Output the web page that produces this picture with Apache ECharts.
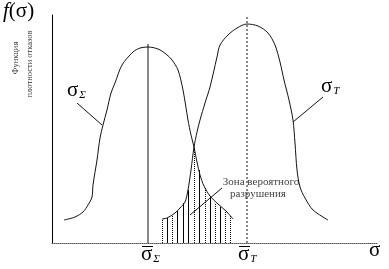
<!DOCTYPE html>
<html><head><meta charset="utf-8">
<script src="https://cdn.jsdelivr.net/npm/echarts@6/dist/echarts.min.js"></script>
<style>html,body{margin:0;padding:0;background:#fff}#c{width:389px;height:269px}</style>
</head><body><div id="c"></div>
<script>
// Schematic values (arbitrary units: x = stress, y = density)
var sigmaSigmaCurve = [[12,23],[23,26],[31,31],[36,38],[40,46],[41,58],[45,83],[48,105],[51,118],[55,133],[59,150],[63,160],[70,178],[81,191],[88,195],[96,196],[106,194],[114,189],[120,183],[126,173],[131,153],[136,123],[139,108],[142,96],[145,81],[148,68],[152,57],[158,47],[166,39],[174,32],[181,24]];
var sigmaTCurve = [[110,24],[115,25],[123,30],[128,35],[133,41],[136,53],[139,73],[142,96],[145,111],[148,123],[153,140],[158,156],[165,186],[168,198],[176,208],[185,215],[195,219],[206,217],[216,210],[223,198],[228,181],[232,163],[237,143],[241,123],[243,100],[245,73],[248,56],[253,45],[261,33],[276,23]];
var hatchX   = [110,115,120,125,131,136,142,147,153,158,163,168,173,178];
var hatchTop = [24,25,28,32,40,53,95,73,55,46,40,36,32,27];
var hatchDotted = [1,0,1,0,0,0,1,0,1,0,1,0,1,1];
var meanSigma = [96, 199];   // x, top of line
var meanT = [195, 226];
var leaderSigma = [[25,140],[50,118]];
var leaderT = [[271,146],[241,121]];
var leaderZone = [[170,55],[138,28]];
var xMax = 326, yMax = 228;

var chart = echarts.init(document.getElementById('c'), null, {renderer:'canvas'});
var black = '#111';
function seg(data, dash){
  return {type:'line', data:data, showSymbol:false, silent:true, animation:false,
    lineStyle:{color:black, width:1, type: dash||'solid'}};
}
var hatchData = hatchX.map(function(x,i){return [x, hatchTop[i], hatchDotted[i]];});
var option = {
  animation:false,
  grid:{left:52, right:11, top:15, bottom:26},
  xAxis:{type:'value', min:0, max:xMax, axisLine:{show:true, lineStyle:{color:'#555', type:[1,1], width:1}},
    axisTick:{show:false}, axisLabel:{show:false}, splitLine:{show:false}},
  yAxis:{type:'value', min:0, max:yMax, axisLine:{show:true, lineStyle:{color:'#000', width:1}},
    axisTick:{show:false}, axisLabel:{show:false}, splitLine:{show:false}},
  series:[
    Object.assign(seg(sigmaSigmaCurve), {smooth:0.3}),
    Object.assign(seg(sigmaTCurve), {smooth:0.3}),
    seg([[meanSigma[0],0],[meanSigma[0],meanSigma[1]]]),
    seg([[meanT[0],0],[meanT[0],meanT[1]]], [2,2]),
    seg(leaderSigma),
    seg(leaderT),
    seg(leaderZone),
    {type:'custom', data:hatchData, silent:true, animation:false,
      renderItem:function(params, api){
        var p0 = api.coord([api.value(0), 0]);
        var p1 = api.coord([api.value(0), api.value(1)]);
        var x = Math.round(p0[0]) + 0.5;
        return {type:'line', shape:{x1:x, y1:p0[1], x2:x, y2:p1[1]},
          style:{stroke:'#000', lineWidth:1, lineDash: api.value(2) ? [1,1] : null}};
      }}
  ]
};
chart.setOption(option);

var serif = '"Liberation Serif", "DejaVu Serif", serif';
function px(pt){return chart.convertToPixel({gridIndex:0}, pt);}
var gl = [];
// f(sigma)
gl.push({type:'text', left:3, top:1, style:{
  text:'{f|f}{p|(σ)}', rich:{f:{fontFamily:serif, fontStyle:'italic', fontSize:21, fill:'#000'}, p:{fontFamily:serif, fontSize:21, fill:'#000'}}}});
// rotated y labels
gl.push({type:'text', x:16, y:58, rotation:Math.PI/2, style:{text:'Функция', font:'8.5px '+serif, fill:'#333', align:'center', verticalAlign:'middle'}});
gl.push({type:'text', x:30, y:64, rotation:Math.PI/2, style:{text:'плотности отказов', font:'8.5px '+serif, fill:'#333', align:'center', verticalAlign:'middle'}});
// curve labels
function sigLabel(x, y, sub){
  return {type:'text', x:x, y:y, style:{text:'{s|σ}{t|'+sub+'}', align:'left', verticalAlign:'bottom',
    rich:{s:{fontFamily:serif, fontSize:21, fill:'#000'}, t:{fontFamily:serif, fontStyle:'italic', fontSize:11, fill:'#000', verticalAlign:'bottom', padding:[0,0,0,1]}}}};
}
gl.push(sigLabel(67, 101, 'Σ'));
gl.push(sigLabel(321, 97, 'T'));
// axis labels with overline
var pS = px([meanSigma[0], 0]), pT = px([meanT[0], 0]);
gl.push(sigLabel(pS[0]-7, 265, 'Σ'));
gl.push({type:'line', z:10, shape:{x1:pS[0]-6, y1:246.5, x2:pS[0]+5, y2:246.5}, style:{stroke:'#000', lineWidth:1}});
gl.push(sigLabel(pT[0]-9, 265, 'T'));
gl.push({type:'line', z:10, shape:{x1:pT[0]-8, y1:246.5, x2:pT[0]+3, y2:246.5}, style:{stroke:'#000', lineWidth:1}});
gl.push({type:'text', x:369, y:261, style:{text:'σ', font:'21px '+serif, fill:'#000', verticalAlign:'bottom'}});
// zone text
gl.push({type:'text', x:261, y:182, style:{text:'Зона вероятного', font:'11px '+serif, fill:'#444', align:'center', verticalAlign:'middle'}});
gl.push({type:'text', x:258, y:194, style:{text:'разрушения', font:'11px '+serif, fill:'#444', align:'center', verticalAlign:'middle'}});
chart.setOption({graphic:gl});
</script></body></html>
